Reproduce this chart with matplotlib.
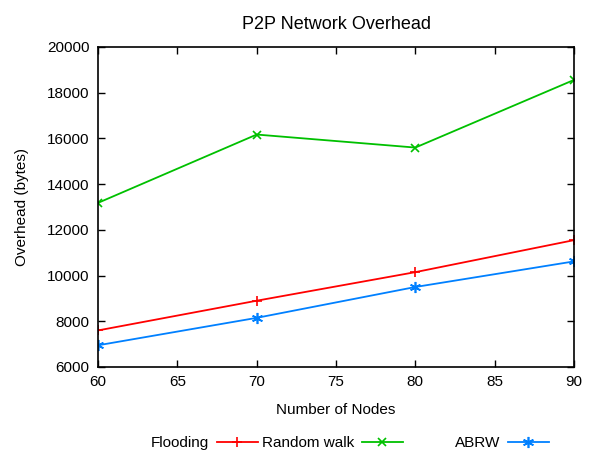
import matplotlib
matplotlib.use("Agg")
import matplotlib.pyplot as plt

plt.rcParams['font.family'] = ['Liberation Sans', 'DejaVu Sans']

nodes = [60, 70, 80, 90]
flooding = [7600, 8900, 10150, 11550]
random_walk = [13180, 16170, 15600, 18560]
abrw = [6950, 8150, 9500, 10620]

x_ticks = [60, 65, 70, 75, 80, 85, 90]
y_ticks = [6000, 8000, 10000, 12000, 14000, 16000, 18000, 20000]

W, H = 590, 457
fig = plt.figure(figsize=(W/100, H/100), dpi=100)
ax = fig.add_axes([98/W, 1-367/H, (574-98)/W, (367-47)/H])

l1, = ax.plot(nodes, flooding, color='#ff0000', marker='+', markersize=7, lw=1.3, mew=1.2, label='Flooding')
l2, = ax.plot(nodes, random_walk, color='#00c000', marker='x', markersize=6, lw=1.3, mew=1.2, label='Random walk')
l3, = ax.plot(nodes, abrw, color='#0080ff', marker=(6, 2, 0), markersize=8, lw=1.3, mew=1.2, label='ABRW')

ax.set_xlim(60, 90)
ax.set_ylim(6000, 20000)
ax.set_xticks(x_ticks)
ax.set_yticks(y_ticks)
ax.tick_params(direction='in', top=True, right=True, labelsize=11, length=5, width=1, pad=6)
for s in ax.spines.values():
    s.set_linewidth(1.2)

ax.set_title('P2P Network Overhead', fontsize=13, pad=13)
ax.set_xlabel('Number of Nodes', fontsize=11, labelpad=10)
ax.set_ylabel('Overhead (bytes)', fontsize=11, labelpad=13)

for line, xr in [(l1, 258), (l2, 403), (l3, 549)]:
    fig.legend(handles=[line], loc='center right', bbox_to_anchor=(xr/W, 1-443/H),
               frameon=False, markerfirst=False, fontsize=11, handlelength=2.7,
               handletextpad=0.5, borderpad=0, borderaxespad=0)

fig.savefig('out.png', dpi=100)
